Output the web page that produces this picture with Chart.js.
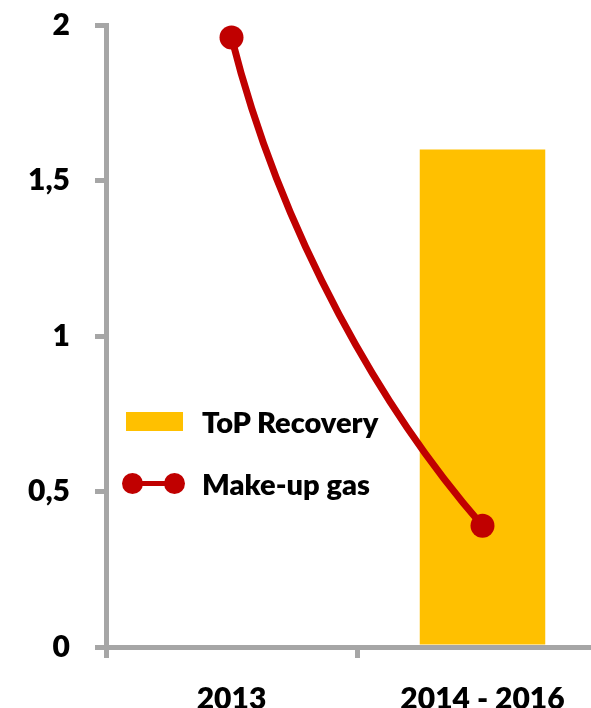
<!DOCTYPE html>
<html>
<head>
<meta charset="utf-8">
<script src="https://cdn.jsdelivr.net/npm/chart.js@4/dist/chart.umd.min.js"></script>
<style>
    html, body {
        margin: 0;
        padding: 0;
        background: #fff;
        overflow: hidden;
    }
    #wrap {
        position: relative;
        width: 620px;
        height: 708px;
    }
    .legend-item {
        position: absolute;
        left: 0;
        height: 40px;
        font: 800 29px Lato, "Open Sans", sans-serif;
        color: #000;
    }
    .legend-item span.label {
        position: absolute;
        left: 202px;
        top: 50%;
        transform: translateY(-50%);
        white-space: nowrap;
    }
    .swatch-bar {
        position: absolute;
        left: 126px;
        top: 11px;
        width: 57px;
        height: 19px;
        background: #FFC000;
    }
    .swatch-line {
        position: absolute;
        left: 132px;
        top: 18px;
        width: 42px;
        height: 5px;
        background: #C00000;
    }
    .swatch-dot {
        position: absolute;
        top: 10px;
        width: 21px;
        height: 21px;
        border-radius: 50%;
        background: #C00000;
    }
</style>
</head>
<body>
<div id="wrap">
    <canvas id="chart"></canvas>
    <div class="legend-item" style="top:401px">
        <div class="swatch-bar"></div>
        <span class="label">ToP Recovery</span>
    </div>
    <div class="legend-item" style="top:463px">
        <div class="swatch-line"></div>
        <div class="swatch-dot" style="left:122px"></div>
        <div class="swatch-dot" style="left:164px"></div>
        <span class="label">Make-up gas</span>
    </div>
</div>
<script>
// données
const categories = ['2013', '2014 - 2016'];
const topRecovery = [null, 1.6];
const makeUpGas = [1.96, 0.39];
const yTicks = [0, 0.5, 1, 1.5, 2];

const axisGrey = '#A6A6A6';
const tickFont = { family: 'Lato, "Open Sans", sans-serif', size: 30, weight: '800' };

// courbe lissée entre les deux points : on remplace les points de contrôle
// calculés par Chart.js (une ligne droite avec seulement deux points)
const curveShape = {
    id: 'curveShape',
    beforeDatasetDraw(chart, args) {
        const meta = args.meta;
        if (meta.type !== 'line' || meta.data.length < 2) return;
        meta.dataset.updateControlPoints(chart.chartArea, 'x');
        const a = meta.data[0];
        const b = meta.data[1];
        const dx = b.x - a.x;
        const dy = b.y - a.y;
        a.cp2x = a.x + 0.2 * dx;
        a.cp2y = a.y + 0.41 * dy;
        b.cp1x = b.x - 0.39 * dx;
        b.cp1y = b.y - 0.23 * dy;
    }
};

const ctx = document.getElementById('chart').getContext('2d');
new Chart(ctx, {
    data: {
        labels: categories,
        datasets: [{
            type: 'line',
            label: 'Make-up gas',
            data: makeUpGas,
            borderColor: '#C00000',
            borderWidth: 7,
            tension: 0.4,
            pointRadius: 12,
            pointBackgroundColor: '#C00000',
            pointBorderWidth: 0,
            order: 0
        }, {
            type: 'bar',
            label: 'ToP Recovery',
            data: topRecovery,
            backgroundColor: '#FFC000',
            categoryPercentage: 0.5,
            barPercentage: 1,
            order: 1
        }]
    },
    options: {
        responsive: true,
        maintainAspectRatio: false,
        animation: false,
        layout: {
            padding: { top: 25, right: 6, left: 0, bottom: 0 }
        },
        plugins: {
            legend: { display: false },
            tooltip: { enabled: false }
        },
        scales: {
            x: {
                grid: {
                    offset: true,
                    drawOnChartArea: false,
                    color: axisGrey,
                    lineWidth: 5,
                    tickLength: 11
                },
                border: { color: axisGrey, width: 5 },
                ticks: {
                    color: '#000',
                    font: tickFont,
                    padding: 23,
                    maxRotation: 0
                },
                afterFit(scale) {
                    scale.height = 61;
                }
            },
            y: {
                min: 0,
                max: 2,
                afterBuildTicks(scale) {
                    scale.ticks = yTicks.map(v => ({ value: v }));
                },
                grid: {
                    drawOnChartArea: false,
                    color: axisGrey,
                    lineWidth: 5,
                    tickLength: 11
                },
                border: { color: axisGrey, width: 5 },
                ticks: {
                    color: '#000',
                    font: tickFont,
                    padding: 25,
                    callback: v => String(v).replace('.', ',')
                },
                afterFit(scale) {
                    // largeur fixe, et pas de marge en haut liée au padding des étiquettes
                    scale.width = 106;
                    scale.paddingTop = 0;
                    scale.paddingBottom = 0;
                }
            }
        }
    },
    plugins: [curveShape]
});
</script>
</body>
</html>
